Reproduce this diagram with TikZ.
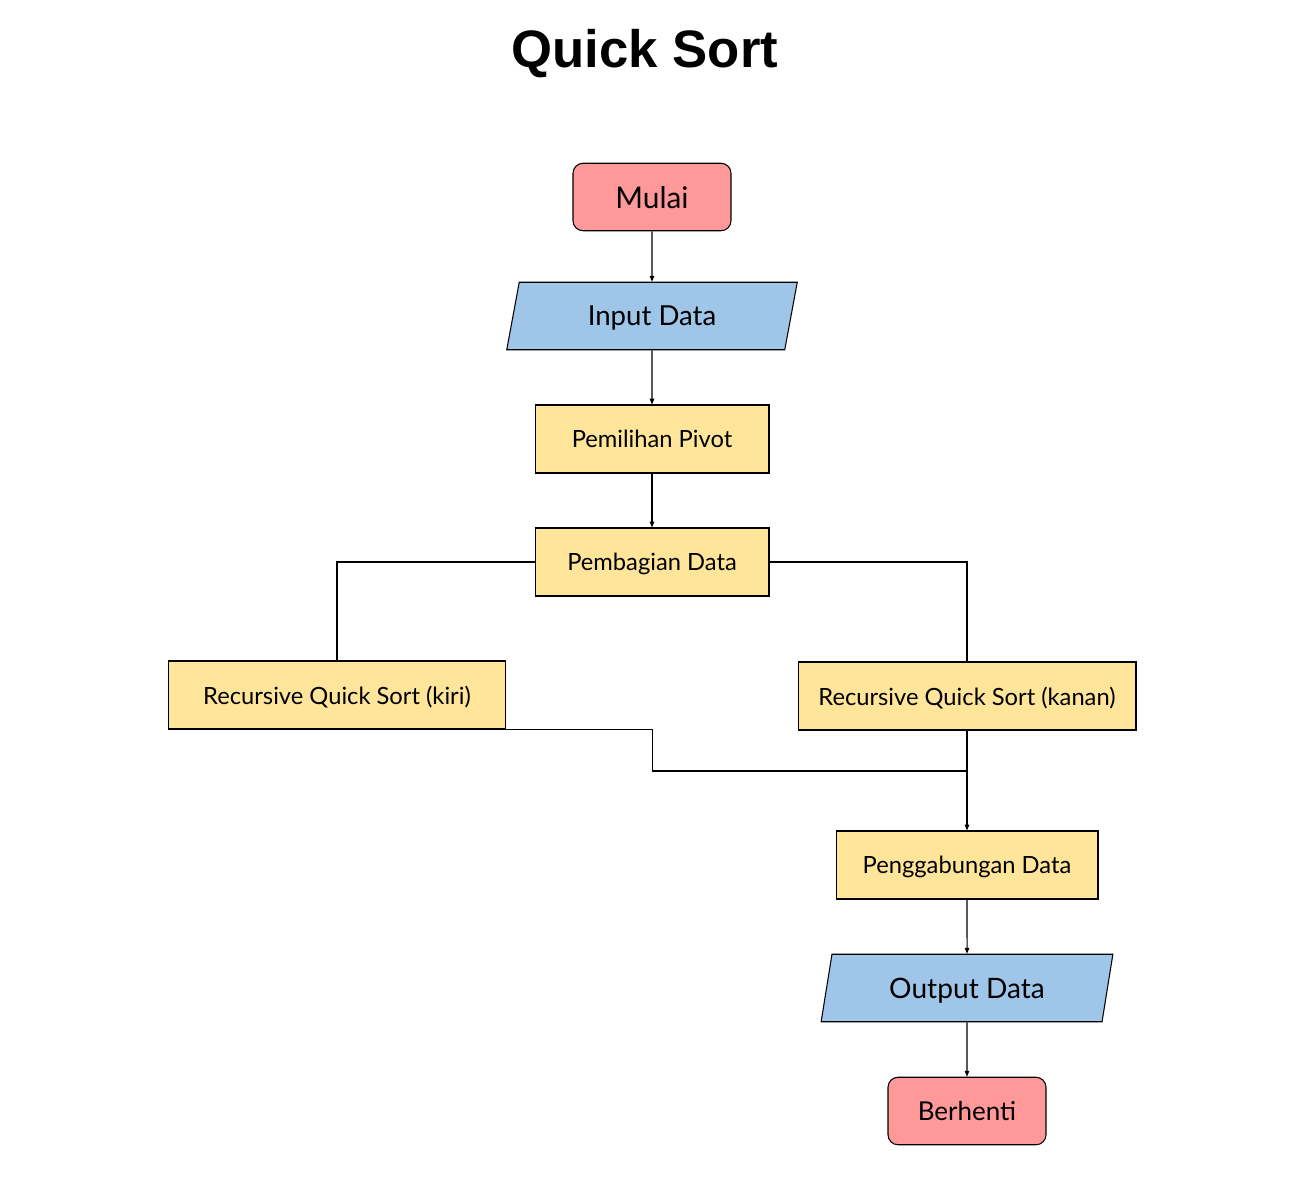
\documentclass[tikz,border=0pt]{standalone}
\usepackage{fontspec}
\setmainfont{Lato}
\newfontfamily\titlefont{Liberation Sans}
\usetikzlibrary{shapes.geometric, arrows.meta, positioning}
\definecolor{termred}{RGB}{255,153,153}
\definecolor{ioblue}{RGB}{159,197,232}
\definecolor{procyellow}{RGB}{255,229,153}

\begin{document}
\begin{tikzpicture}[x=0.02cm, y=-0.02cm,
  termbox/.style={draw, fill=termred, line width=0.6pt, rounded corners=0.2cm, minimum width=3.16cm, minimum height=1.35cm, inner sep=2pt, text depth=0pt, font=\fontsize{17}{20}\selectfont},
  iobox/.style={draw, fill=ioblue, line width=0.6pt, trapezium, trapezium left angle=76.6, trapezium right angle=103.4, trapezium stretches=true, minimum width=5.84cm, minimum height=1.35cm, inner sep=2pt, text depth=0pt, font=\fontsize{15.7}{18}\selectfont},
  procbox/.style={draw, fill=procyellow, line width=0.6pt, minimum height=1.36cm, inner sep=2pt, text depth=0pt, font=\fontsize{13.5}{16}\selectfont},
  flow/.style={-{Triangle[length=3.4pt, width=2.6pt]}, line width=0.6pt},
  link/.style={line width=0.6pt}]
  \useasboundingbox (0,0) rectangle (1305,1184);

  % Title
  \node[font=\titlefont\bfseries\fontsize{30}{36}\selectfont] (title) at (645,54) {Quick Sort};

  % Main column
  \node[termbox] (mulai) at (652,197) {Mulai};
  \node[iobox] (input) at (652,316) {Input Data};
  \node[procbox, minimum width=4.68cm] (pivot) at (652,439) {Pemilihan Pivot};
  \node[procbox, minimum width=4.68cm] (bagi) at (652,562) {Pembagian Data};

  % Recursive branches
  \node[procbox, minimum width=6.76cm] (kiri) at (337,695) {Recursive Quick Sort (kiri)};
  \node[procbox, minimum width=6.76cm] (kanan) at (967,696) {Recursive Quick Sort (kanan)};

  % Merge and finish
  \node[procbox, minimum width=5.24cm] (gabung) at (967,865) {Penggabungan Data};
  \node[iobox, font=\fontsize{16}{19}\selectfont] (output) at (967,988) {Output Data};
  \node[termbox, font=\fontsize{14.8}{17}\selectfont] (berhenti) at (967,1111) {Berhenti};
  \coordinate (join) at (967,771);

  % Connectors
  \draw[flow] (mulai) -- (input);
  \draw[flow] (input) -- (pivot);
  \draw[flow] (pivot) -- (bagi);
  \draw[link] (bagi.west) -| (kiri.north);
  \draw[link] (bagi.east) -| (kanan.north);
  \draw[link] (kiri.south east) -- ++(146,0) |- (join);
  \draw[flow] (kanan) -- (gabung);
  \draw[flow] (gabung) -- (output);
  \draw[flow] (output) -- (berhenti);
\end{tikzpicture}
\end{document}
